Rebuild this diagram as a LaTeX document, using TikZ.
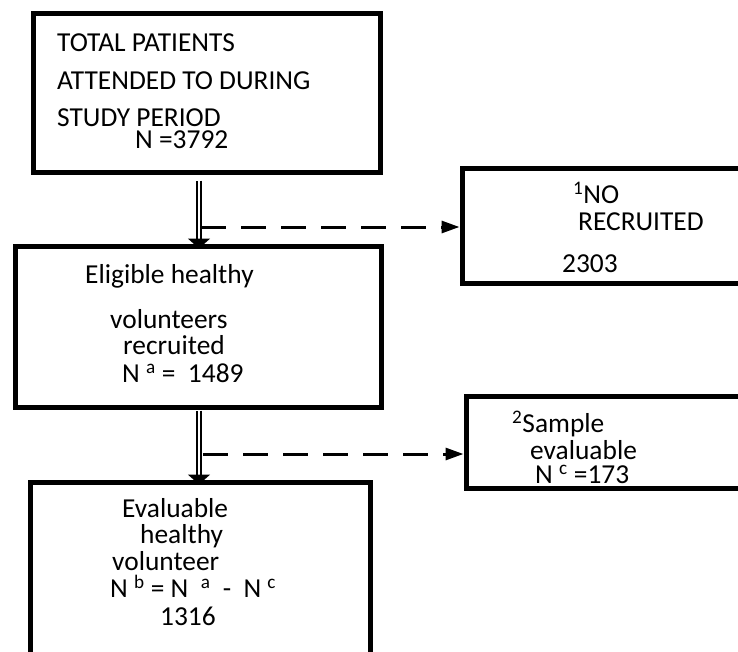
\documentclass[tikz,border=0pt]{standalone}
\usepackage{fontspec}
\setmainfont{Carlito}
\usetikzlibrary{positioning,arrows.meta}

\begin{document}
\begin{tikzpicture}[x=1bp, y=-1bp, stagebox/.style={draw, line width=5bp, rectangle, inner sep=0pt}, txt/.style={anchor=base west, inner sep=0pt, font=\fontsize{27.5}{32}\selectfont}, mainarrow/.style={double, double distance=2bp, line width=2bp, -{Triangle[width=22bp,length=10bp]}}, exclarrow/.style={line width=3bp, dash pattern=on 25bp off 15bp, -{Triangle[width=12bp,length=18bp]}}]
\clip (0,0) rectangle (738,652);
\node[stagebox, minimum width=346bp, minimum height=158bp] (total) at (207,93) {};
\node[stagebox, minimum width=365bp, minimum height=161bp] (elig) at (198.5,326.5) {};
\node[stagebox, minimum width=288bp, minimum height=114bp] (norec) at (606,226) {};
\node[stagebox, minimum width=284bp, minimum height=92bp] (sample) at (608,442) {};
\node[stagebox, minimum width=339bp, minimum height=198bp] (evalu) at (200.5,581) {};
\coordinate (col) at (199,0);
\coordinate (j1) at (201,227);
\coordinate (j2) at (203,454);
\draw[mainarrow] ([yshift=-6bp]total.south -| col) -- ([yshift=-5bp]elig.north -| col);
\draw[mainarrow] ([yshift=-1bp]elig.south -| col) -- ([yshift=-5bp]evalu.north -| col);
\draw[exclarrow] (j1) -- (norec.west |- j1);
\draw[exclarrow] (j2) -- (sample.west |- j2);
\node[txt] (t1a) at (57,52) {TOTAL PATIENTS};
\node[txt] (t1b) at (57,90) {ATTENDED TO DURING};
\node[txt] (t1c) at (57,127) {STUDY PERIOD};
\node[txt] (t1d) at (135,148) {N =3792};
\node[txt] (t2a) at (85,283) {Eligible healthy};
\node[txt] (t2b) at (110,328) {volunteers};
\node[txt] (t2c) at (123,354) {recruited};
\node[txt] (t2d) at (122,382) {N \textsuperscript{a} =\ \ 1489};
\node[txt] (t3a) at (573,203) {\textsuperscript{1}NO};
\node[txt] (t3b) at (578,230) {RECRUITED};
\node[txt] (t3c) at (562,272) {2303};
\node[txt] (t5a) at (512,432) {\textsuperscript{2}Sample};
\node[txt] (t5b) at (530,459) {evaluable};
\node[txt] (t5c) at (535,483) {N \textsuperscript{c} =173};
\node[txt] (t4a) at (122,517) {Evaluable};
\node[txt] (t4b) at (140,543) {healthy};
\node[txt] (t4c) at (112,570) {volunteer};
\node[txt] (t4d) at (110,597) {N \textsuperscript{b} = N \ \textsuperscript{a} \ - \ N \textsuperscript{c}};
\node[txt] (t4e) at (160,625) {1316};
\end{tikzpicture}
\end{document}
